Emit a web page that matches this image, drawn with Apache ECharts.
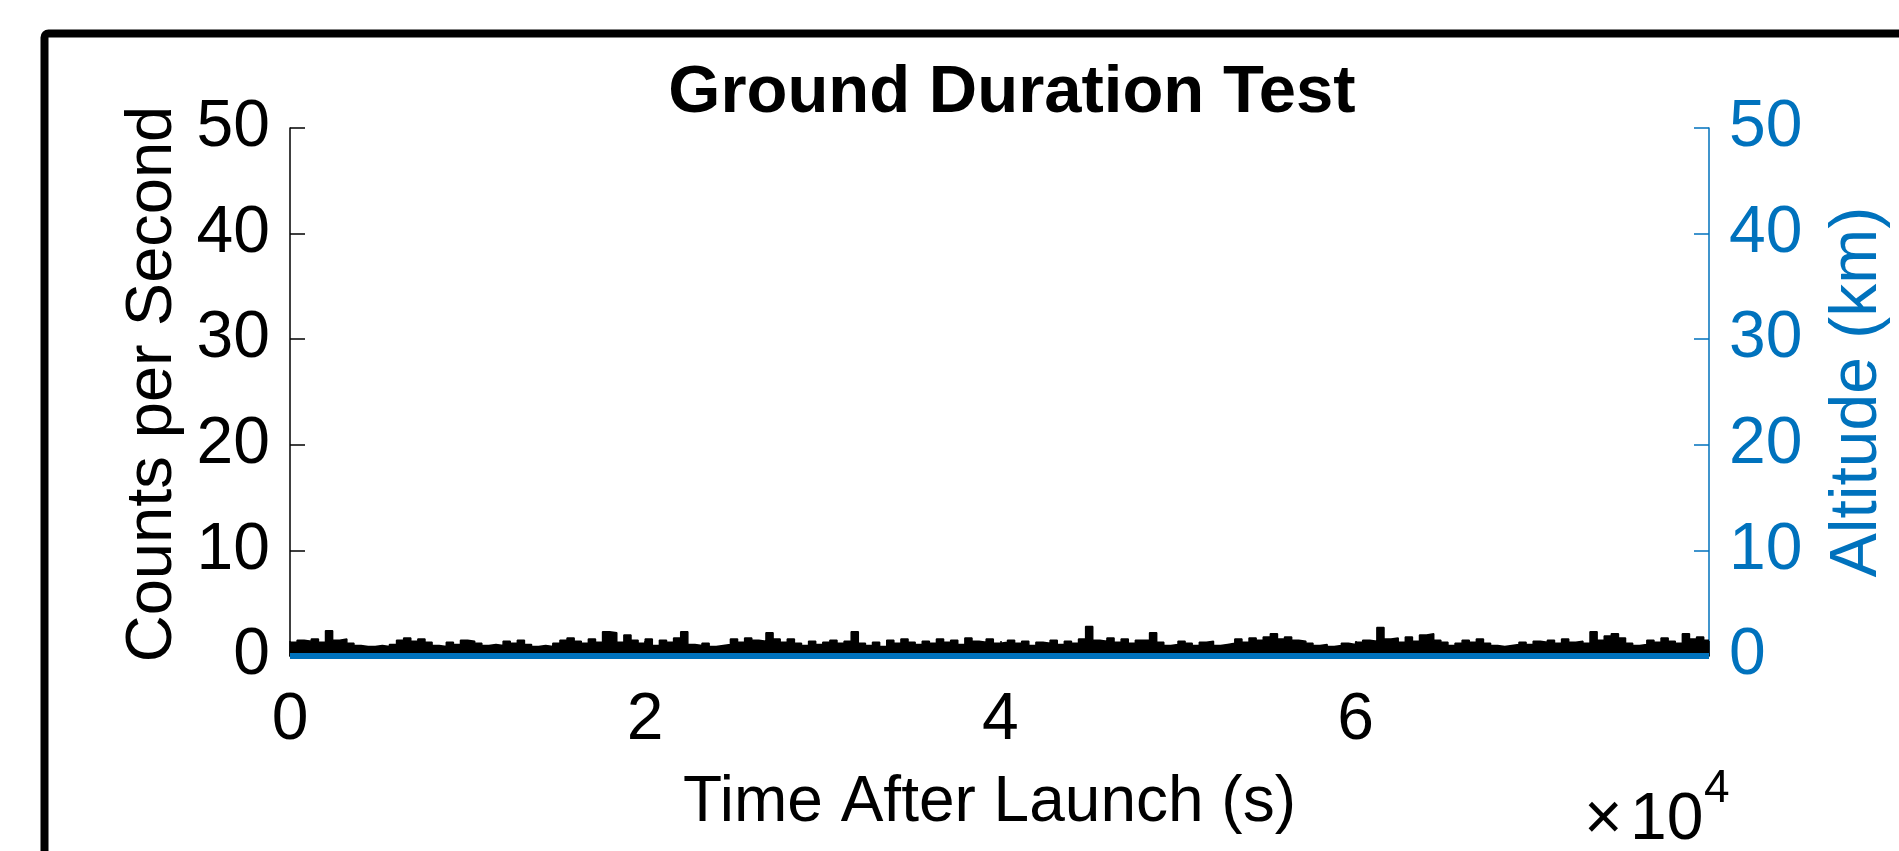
<!DOCTYPE html>
<html><head><meta charset="utf-8">
<script src="https://cdn.jsdelivr.net/npm/echarts@6/dist/echarts.min.js"></script>
<style>html,body{margin:0;padding:0;background:#fff}#c{width:1899px;height:851px}</style>
</head><body><div id="c"></div>
<script>
// ---- chart text ----
const titleText = 'Ground Duration Test';
const xAxisName = 'Time After Launch (s)';
const leftAxisName = 'Counts per Second';
const rightAxisName = 'Altitude (km)';
const xExponentBase = '\u00d7';
const xExponentTen = '10';
const xExponent = '4';

// ---- axes ----
const xTickValues = [0, 20000, 40000, 60000];
const xMin = 0;
const xMax = 79900;
const yTickValues = [0, 10, 20, 30, 40, 50];

// ---- counts per second (upper envelope of the dense trace) ----
const countTime = [
  0,400,800,1200,1600,2000,2400,2800,3200,3600,
  4000,4400,4800,5200,5600,6000,6400,6800,7200,7600,
  8000,8400,8800,9200,9600,10000,10400,10800,11200,11600,
  12000,12400,12800,13200,13600,14000,14400,14800,15200,15600,
  16000,16400,16800,17200,17600,18000,18400,18800,19200,19600,
  20000,20400,20800,21200,21600,22000,22400,22800,23200,23600,
  24000,24400,24800,25200,25600,26000,26400,26800,27200,27600,
  28000,28400,28800,29200,29600,30000,30400,30800,31200,31600,
  32000,32400,32800,33200,33600,34000,34400,34800,35200,35600,
  36000,36400,36800,37200,37600,38000,38400,38800,39200,39600,
  40000,40400,40800,41200,41600,42000,42400,42800,43200,43600,
  44000,44400,44800,45200,45600,46000,46400,46800,47200,47600,
  48000,48400,48800,49200,49600,50000,50400,50800,51200,51600,
  52000,52400,52800,53200,53600,54000,54400,54800,55200,55600,
  56000,56400,56800,57200,57600,58000,58400,58800,59200,59600,
  60000,60400,60800,61200,61600,62000,62400,62800,63200,63600,
  64000,64400,64800,65200,65600,66000,66400,66800,67200,67600,
  68000,68400,68800,69200,69600,70000,70400,70800,71200,71600,
  72000,72400,72800,73200,73600,74000,74400,74800,75200,75600,
  76000,76400,76800,77200,77600,78000,78400,78800,79200,79600,
  79900
];
const countRate = [
  1.3,1.5,1.4,1.6,1.3,2.4,1.5,1.6,1.2,1.0,
  0.9,0.9,1.0,0.9,1.1,1.5,1.7,1.4,1.6,1.3,
  1.0,0.9,1.3,1.1,1.5,1.4,1.2,1.0,1.1,1.0,
  1.4,1.2,1.5,1.1,0.9,1.0,0.9,1.2,1.5,1.7,
  1.4,1.2,1.6,1.3,2.3,2.2,1.3,2.0,1.5,1.2,
  1.6,1.0,1.5,1.3,1.7,2.3,1.1,1.0,1.2,0.9,
  1.0,1.1,1.6,1.3,1.7,1.5,1.4,2.2,1.6,1.3,
  1.6,1.2,1.0,1.4,1.1,1.3,1.5,1.2,1.4,2.3,
  1.2,1.0,1.3,0.9,1.5,1.2,1.6,1.3,1.1,1.4,
  1.2,1.6,1.3,1.5,1.1,1.7,1.4,1.3,1.6,1.2,
  1.3,1.5,1.2,1.4,1.0,1.3,1.2,1.5,1.1,1.4,
  1.2,1.6,2.8,1.5,1.4,1.7,1.3,1.6,1.2,1.5,
  1.5,2.2,1.3,1.0,1.1,1.4,1.2,1.0,1.3,1.4,
  1.0,1.1,1.2,1.6,1.3,1.7,1.5,1.8,2.1,1.6,
  1.8,1.5,1.4,1.2,1.0,1.1,0.9,1.0,1.2,1.1,
  1.3,1.5,1.4,2.7,1.6,1.7,1.3,1.8,1.4,2.0,
  2.1,1.5,1.3,1.0,1.2,1.5,1.3,1.6,1.2,1.0,
  0.9,1.0,1.1,1.3,1.1,1.4,1.3,1.5,1.2,1.6,
  1.3,1.4,1.2,2.3,1.5,1.9,2.1,1.7,1.2,1.0,
  1.1,1.5,1.3,1.7,1.4,1.2,2.1,1.6,1.8,1.5,
  1.5
];

// ---- altitude (ground test: stays at 0 km) ----
const altitudeTime = [0, 79900];
const altitudeKm = [0, 0];

// ---- styling ----
const FONT = '"Liberation Sans", Arial, Helvetica, sans-serif';
const BLACK = '#000000';
const BLUE = '#0072BD';

const chart = echarts.init(document.getElementById('c'), null, {renderer: 'canvas'});

const countData = countTime.map((t, i) => [t, countRate[i]]);
const altData = altitudeTime.map((t, i) => [t, altitudeKm[i]]);

const yAxisCommon = (color, pos, name, gap, nameSize, namePad) => ({
  type: 'value', position: pos, min: 0, max: 50, interval: 10,
  name: name, nameLocation: 'middle', nameGap: gap, nameRotate: 90,
  nameTextStyle: {color: color, fontSize: nameSize, fontFamily: FONT, lineHeight: nameSize, padding: namePad},
  axisLine: {show: true, lineStyle: {color: color, width: 1.5}},
  axisTick: {show: true, inside: true, length: 15, lineStyle: {color: color, width: 1.5}},
  axisLabel: {color: color, fontSize: 66, fontFamily: FONT, margin: 20, lineHeight: 66,
    padding: [13, 0, 0, 0],
    formatter: v => (yTickValues.indexOf(v) >= 0 ? String(v) : '')},
  splitLine: {show: false}
});

chart.setOption({
  animation: false,
  backgroundColor: '#ffffff',
  title: {
    text: titleText, left: 1012, top: 60, textAlign: 'center', padding: 0,
    textStyle: {fontSize: 67, fontWeight: 'bold', fontFamily: FONT, color: BLACK, lineHeight: 67}
  },
  grid: {left: 290, right: 166, top: 128, bottom: 195, containLabel: false},
  xAxis: {
    type: 'value', min: xMin, max: xMax, interval: 20000,
    name: xAxisName, nameLocation: 'middle', nameGap: 115,
    nameTextStyle: {color: BLACK, fontSize: 64, fontFamily: FONT, lineHeight: 64, padding: [0, 20, 0, 0]},
    axisLine: {show: true, lineStyle: {color: BLACK, width: 1.5}},
    axisTick: {show: true, inside: true, length: 15, lineStyle: {color: BLACK, width: 1.5}},
    axisLabel: {color: BLACK, fontSize: 66, fontFamily: FONT, margin: 32, lineHeight: 66,
      formatter: v => (xTickValues.indexOf(v) >= 0 ? String(v / 10000) : '')},
    splitLine: {show: false}
  },
  yAxis: [
    yAxisCommon(BLACK, 'left', leftAxisName, 104, 65, [0, 0, 0, 16]),
    yAxisCommon(BLUE, 'right', rightAxisName, 116, 66, 0)
  ],
  series: [
    {
      name: 'Counts', type: 'line', xAxisIndex: 0, yAxisIndex: 0,
      data: countData, step: 'end', symbol: 'none', z: 2,
      lineStyle: {color: BLACK, width: 1.5},
      areaStyle: {color: BLACK, opacity: 1}
    },
    {
      name: 'Altitude', type: 'line', xAxisIndex: 0, yAxisIndex: 1,
      data: altData, symbol: 'none', clip: false, z: 5,
      lineStyle: {color: BLUE, width: 6}
    }
  ],
  graphic: [
    {type: 'rect', silent: true, z: -10,
     shape: {x: 44.5, y: 33.5, width: 3000, height: 3000, r: 4},
     style: {fill: 'none', stroke: BLACK, lineWidth: 8}},
    {type: 'text', silent: true, x: 1584, y: 821,
     style: {text: xExponentBase, font: '66px ' + FONT, fill: BLACK, align: 'left', verticalAlign: 'middle'}},
    {type: 'text', silent: true, x: 1630, y: 821,
     style: {text: xExponentTen, font: '66px ' + FONT, fill: BLACK, align: 'left', verticalAlign: 'middle'}},
    {type: 'text', silent: true, x: 1704, y: 789,
     style: {text: xExponent, font: '46px ' + FONT, fill: BLACK, align: 'left', verticalAlign: 'middle'}}
  ]
});
</script>
</body></html>
